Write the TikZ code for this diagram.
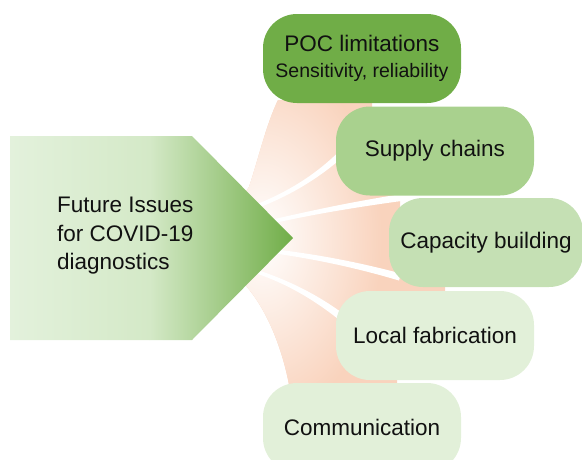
\documentclass[tikz,border=0pt]{standalone}
\usepackage{fontspec}
\setmainfont{Liberation Sans}
\definecolor{peach}{HTML}{F9D3BD}
\definecolor{gA}{HTML}{70AD47}
\definecolor{gB}{HTML}{A9D18E}
\definecolor{gC}{HTML}{C5E0B4}
\definecolor{gD}{HTML}{E2F0D9}
\definecolor{gL}{HTML}{E3F1DC}
\definecolor{gM}{HTML}{D4E9C7}
\definecolor{txt}{HTML}{111111}
\tikzset{
  issuebox/.style={draw=none, rounded corners=34pt, minimum width=198pt, minimum height=89pt,
    inner sep=0pt, align=center, text=txt, font=\fontsize{22.5}{26}\selectfont},
  gapband/.style={fill=white, draw=none}
}
\begin{document}
\begin{tikzpicture}[x=1pt,y=-1pt]
\useasboundingbox (0,0) rectangle (582,459);
% fan of bands
\begin{scope}
  \clip (240,200) -- (249,187) .. controls (258,160) and (266,125) .. (278,100)
    -- (372,100) -- (372,150) -- (400,150) -- (400,250) -- (445,250) -- (445,330)
    -- (397,330) -- (397,390) -- (290,390) .. controls (283,350) and (268,312) .. (247,287)
    -- (240,275) -- cycle;
  \fill[peach] (230,90) rectangle (450,400);
  \shade[inner color=white, outer color=peach] (262,238) ellipse [x radius=120pt, y radius=180pt];
\end{scope}
% white gaps
\fill[gapband] (256,204.5) .. controls (290,191) and (318,173) .. (342,148.5)
  -- (344,156) .. controls (318,179) and (290,195.5) .. (258,208) -- cycle;
\fill[gapband] (270,220) .. controls (310,211) and (350,202) .. (405,193.5)
  -- (405,200.5) .. controls (350,208) and (310,215) .. (270,224) -- cycle;
\fill[gapband] (272,249) .. controls (310,253.5) and (350,260) .. (401,273.5)
  -- (399,280.5) .. controls (350,266) and (310,258.5) .. (272,253) -- cycle;
\fill[gapband] (256,269.5) .. controls (285,279) and (316,293) .. (347,316.5)
  -- (343,323) .. controls (314,299) and (285,283) .. (255,273) -- cycle;
% arrow
\begin{scope}
  \clip (10,136) -- (192,136) -- (293,238) -- (192,340) -- (10,340) -- cycle;
  \shade[left color=gL, right color=gM] (10,130) rectangle (150,345);
  \shade[left color=gM, right color=gA] (149.5,130) rectangle (294,345);
\end{scope}
\node[anchor=west, inner sep=0pt, align=left, text=txt, font=\fontsize{22.5}{28.5}\selectfont]
  (main) at (57,236) {Future Issues\\for COVID-19\\diagnostics};
% boxes
\node[issuebox, fill=gA] (poc) at (362,58.5) {POC limitations\\{\fontsize{19.5}{26}\selectfont Sensitivity, reliability}};
\node[issuebox, fill=gB] (supply) at (435,151) {Supply chains};
\node[issuebox, fill=gC, minimum width=194pt] (capacity) at (486,242.5) {Capacity building};
\node[issuebox, fill=gD] (local) at (435,335.5) {Local fabrication};
\node[issuebox, fill=gD] (comm) at (362,427.5) {Communication};
\end{tikzpicture}
\end{document}
